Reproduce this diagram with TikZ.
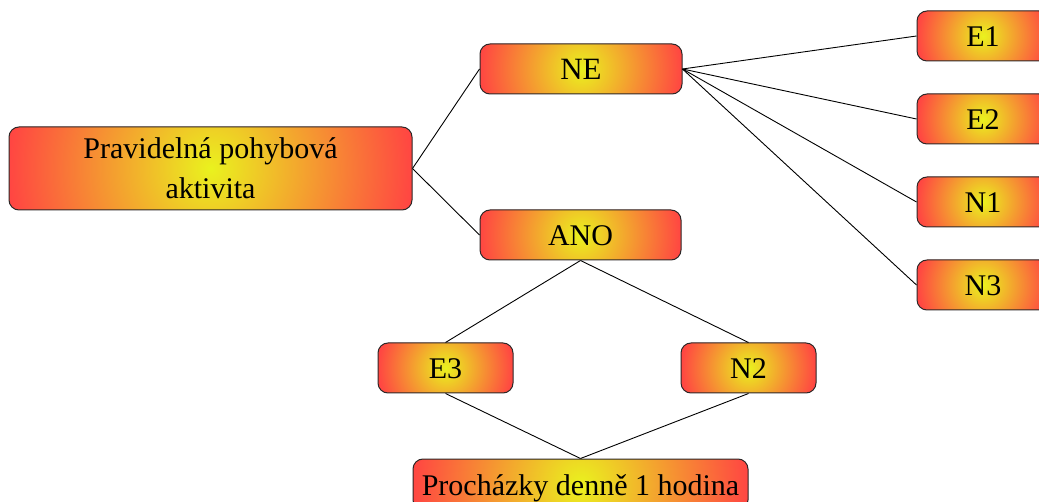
\documentclass[tikz,border=0pt]{standalone}
\usepackage{fontspec}
\setmainfont{Liberation Serif}
\usetikzlibrary{calc}
\definecolor{boxcore}{RGB}{234,242,30}
\definecolor{boxrim}{RGB}{255,70,66}
\definecolor{boxline}{RGB}{45,40,40}
\tikzset{
  box/.style={draw=boxline, line width=1pt, rounded corners=10pt, fill=boxrim,
    minimum width=#1, minimum height=50pt, inner sep=0pt, align=center,
    font=\fontsize{30}{40}\selectfont, text height=22pt, text depth=0pt,
    path picture={\shade[inner color=boxcore, outer color=boxrim]
      let \p1=(path picture bounding box.east), \p2=(path picture bounding box.center),
          \n1={\x1-\x2} in (\p2) circle[radius=\n1];}},
  link/.style={draw=black, line width=0.9pt}
}
\begin{document}
\begin{tikzpicture}[x=1pt,y=-1pt]
\useasboundingbox (0,0) rectangle (1039,502);
\clip (0,0) rectangle (1039,502);
% boxes
\node[box=403pt, minimum height=83pt, text height=, text depth=] (root) at (210.5,168.5) {Pravidelná pohybová\\aktivita};
\node[box=202pt, font=\fontsize{31}{40}\selectfont] (ne) at (581,69) {NE};
\node[box=201pt] (ano) at (580.5,235) {ANO};
\node[box=132pt] (e1) at (983,36) {E1};
\node[box=132pt] (e2) at (983,119) {E2};
\node[box=132pt] (n1) at (983,202) {N1};
\node[box=132pt] (n3) at (983,285) {N3};
\node[box=135pt] (e3) at (445.5,368) {E3};
\node[box=135pt] (n2) at (748.5,368) {N2};
\node[box=335pt, minimum height=51pt] (walk) at (580.5,484.5) {Procházky denně 1 hodina};
% connectors
\draw[link] (root.east) -- (ne.west);
\draw[link] (root.east) -- (ano.west);
\foreach \t in {e1,e2,n1,n3} \draw[link] (ne.east) -- (\t.west);
\draw[link] (ano.south) -- (e3.north);
\draw[link] (ano.south) -- (n2.north);
\draw[link] (e3.south) -- (walk.north);
\draw[link] (n2.south) -- (walk.north);
\end{tikzpicture}
\end{document}
